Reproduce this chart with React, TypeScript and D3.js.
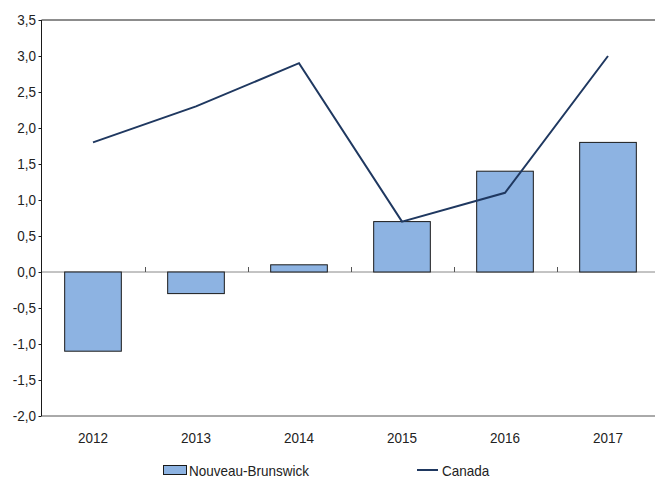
import { useEffect, useRef } from "react";
import * as d3 from "d3";

const W = 655;
const H = 481;
const M = { top: 20, left: 41.5, right: 659.5, bottom: 416 };
const FONT = "'Liberation Sans', Arial, sans-serif";
const FONT_SIZE = 15;
const SQUEEZE = 0.9; // reference uses a condensed face

const years = ["2012", "2013", "2014", "2015", "2016", "2017"];
const nbValues = [-1.1, -0.3, 0.1, 0.7, 1.4, 1.8];
const canadaValues = [1.8, 2.3, 2.9, 0.7, 1.1, 3.0];
const yTicks = [-2, -1.5, -1, -0.5, 0, 0.5, 1, 1.5, 2, 2.5, 3, 3.5];

const BAR_FILL = "#8db3e2";
const LINE_COL = "#1f3860";

const fmt = (v: number) => v.toFixed(1).replace(".", ",");

export default function App() {
  const svgRef = useRef<SVGSVGElement | null>(null);

  useEffect(() => {
    const svg = d3.select(svgRef.current);
    svg.selectAll("*").remove();

    // condensed text helper
    const label = (
      parent: d3.Selection<any, any, any, any>,
      tx: number,
      ty: number,
      s: string,
      anchor = "start",
      dy = "0"
    ) =>
      parent
        .append("text")
        .attr("transform", `translate(${tx},${ty}) scale(${SQUEEZE},1)`)
        .attr("dy", dy)
        .attr("text-anchor", anchor)
        .attr("font-family", FONT)
        .attr("font-size", FONT_SIZE)
        .attr("fill", "#222")
        .text(s);

    const x = d3
      .scaleBand<string>()
      .domain(years)
      .range([M.left, M.right])
      .paddingInner(0.45)
      .paddingOuter(0.225);
    const step = x.step();
    const y = d3.scaleLinear().domain([-2, 3.5]).range([M.bottom, M.top]);

    // frame lines
    svg.append("line")
      .attr("x1", M.left).attr("x2", W)
      .attr("y1", y(3.5)).attr("y2", y(3.5))
      .attr("stroke", "#1a1a1a").attr("stroke-width", 1);
    svg.append("line")
      .attr("x1", M.left).attr("x2", W)
      .attr("y1", y(-2)).attr("y2", y(-2))
      .attr("stroke", "#555").attr("stroke-width", 1);

    // zero line + category ticks
    svg.append("line")
      .attr("x1", M.left).attr("x2", W)
      .attr("y1", y(0)).attr("y2", y(0))
      .attr("stroke", "#888").attr("stroke-width", 1);
    years.slice(1).forEach((yr) => {
      const bx = Math.round((x(yr) ?? 0) - (step - x.bandwidth()) / 2) + 0.5;
      svg.append("line")
        .attr("x1", bx).attr("x2", bx)
        .attr("y1", y(0) - 5).attr("y2", y(0))
        .attr("stroke", "#555").attr("stroke-width", 1);
    });

    // bars
    svg.append("g")
      .selectAll("rect")
      .data(nbValues)
      .join("rect")
      .attr("x", (_, i) => x(years[i]) ?? 0)
      .attr("width", x.bandwidth())
      .attr("y", (d) => y(Math.max(0, d)))
      .attr("height", (d) => Math.abs(y(d) - y(0)))
      .attr("fill", BAR_FILL)
      .attr("stroke", "#1a1a1a")
      .attr("stroke-width", 1);

    // Canada line
    const line = d3
      .line<number>()
      .x((_, i) => (x(years[i]) ?? 0) + x.bandwidth() / 2)
      .y((d) => y(d));
    svg.append("path")
      .attr("d", line(canadaValues) ?? "")
      .attr("fill", "none")
      .attr("stroke", LINE_COL)
      .attr("stroke-width", 2);

    // y axis
    svg.append("line")
      .attr("x1", M.left).attr("x2", M.left)
      .attr("y1", M.top).attr("y2", M.bottom)
      .attr("stroke", "#1a1a1a").attr("stroke-width", 1);
    const yg = svg.append("g");
    yTicks.forEach((t) => {
      yg.append("line")
        .attr("x1", M.left - 3).attr("x2", M.left)
        .attr("y1", Math.round(y(t)) + 0.5).attr("y2", Math.round(y(t)) + 0.5)
        .attr("stroke", "#1a1a1a");
      label(yg, 36, y(t), fmt(t), "end", "0.36em");
    });

    // x labels
    const xg = svg.append("g");
    years.forEach((d) => label(xg, (x(d) ?? 0) + x.bandwidth() / 2, 443, d, "middle"));

    // legend
    const lg = svg.append("g");
    lg.append("rect")
      .attr("x", 163.5).attr("y", 465.5)
      .attr("width", 23).attr("height", 9)
      .attr("fill", BAR_FILL).attr("stroke", "#1a1a1a");
    label(lg, 189, 476, "Nouveau-Brunswick");
    lg.append("line")
      .attr("x1", 417).attr("x2", 438)
      .attr("y1", 470).attr("y2", 470)
      .attr("stroke", LINE_COL).attr("stroke-width", 2);
    label(lg, 442, 476, "Canada");
  }, []);

  return (
    <svg
      ref={svgRef}
      width={W}
      height={H}
      style={{ position: "absolute", top: 0, left: 0, background: "#fff" }}
    />
  );
}
